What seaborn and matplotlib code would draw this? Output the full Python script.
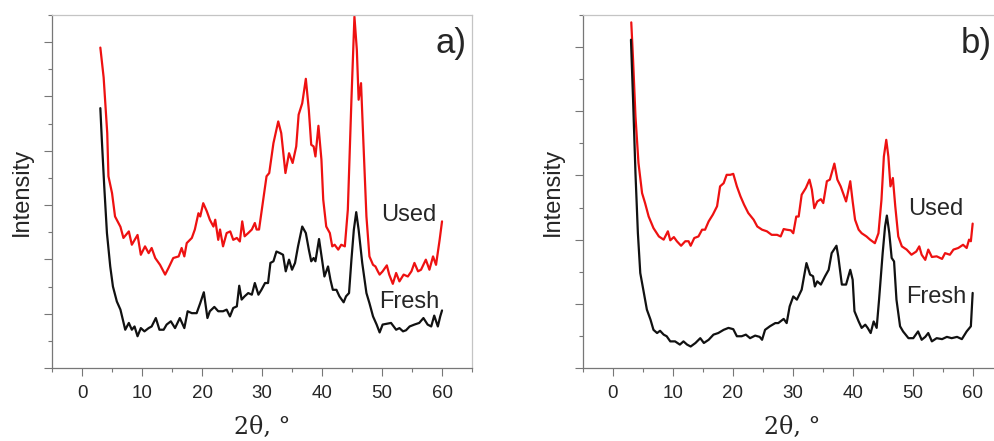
import numpy as np
import pandas as pd
import seaborn as sns
import matplotlib
matplotlib.use('Agg')
import matplotlib.pyplot as plt
from matplotlib.ticker import MultipleLocator

# XRD patterns (2theta in degrees, intensity in arbitrary units)
# panel a) - used catalyst
theta_a_used = [3.05, 3.6, 4.2, 4.4, 5.0, 5.5, 6.4, 6.9, 7.8, 8.3, 9.25, 9.8, 10.5, 11.1, 11.6,
                12.2, 13.0, 13.85, 14.4, 15.2, 16.1, 16.6, 17.05, 17.45, 18.3, 18.8, 19.4, 19.7,
                20.2, 20.8, 21.3, 21.9, 22.2, 22.7, 23.0, 23.5, 24.1, 24.7, 25.2, 25.8, 26.3,
                26.7, 27.1, 27.7, 28.3, 28.8, 29.1, 29.5, 30.2, 30.75, 31.2, 31.9, 32.7, 33.2,
                33.9, 34.5, 35.1, 35.7, 36.1, 36.7, 37.3, 37.8, 38.2, 38.6, 38.9, 39.4, 39.9,
                40.2, 40.7, 41.3, 41.7, 42.1, 42.7, 43.2, 43.8, 44.3, 44.9, 45.4, 45.8, 46.1,
                46.5, 46.9, 47.4, 47.9, 48.5, 48.9, 49.3, 49.6, 50.1, 50.8, 51.2, 51.8, 52.35,
                52.9, 53.6, 54.3, 54.9, 55.4, 56.0, 56.5, 57.3, 57.9, 58.5, 59.0, 59.6, 60.0]
int_a_used = [11.8, 10.7, 8.65, 7.06, 6.44, 5.58, 5.2, 4.79, 5.03, 4.54, 4.9, 4.17, 4.48, 4.23, 4.42,
              4.05, 3.8, 3.44, 3.68, 4.05, 4.11, 4.42, 4.11, 4.6, 4.79, 5.1, 5.7, 5.58,
              6.07, 5.77, 5.46, 5.21, 5.46, 4.72, 5.1, 4.48, 4.97, 5.03, 4.72, 4.79, 4.66,
              5.4, 4.85, 4.97, 5.1, 5.34, 5.1, 5.1, 6.2, 7.06, 7.18, 8.28, 9.08, 8.65,
              7.18, 7.91, 7.55, 8.16, 9.33, 9.75, 10.65, 9.5, 8.22, 8.16, 7.79, 8.92, 7.67,
              6.2, 5.21, 4.97, 4.48, 4.54, 4.36, 4.54, 4.48, 5.83, 9.88, 12.94, 11.72, 9.88,
              10.49, 8.28, 5.58, 4.11, 3.8, 3.74, 3.56, 3.44, 3.56, 3.78, 3.44, 3.1, 3.5,
              3.19, 3.44, 3.37, 3.56, 3.87, 3.56, 3.62, 3.99, 3.62, 4.11, 3.8, 4.72, 5.4]

# panel a) - fresh catalyst
theta_a_fresh = [3.05, 3.3, 3.7, 4.15, 4.7, 5.15, 5.8, 6.4, 6.8, 7.2, 7.8, 8.3, 8.75, 9.25, 9.8,
                 10.4, 11.1, 11.6, 12.3, 12.9, 13.6, 14.1, 14.8, 15.5, 16.3, 17.05, 17.6, 18.3,
                 19.1, 19.7, 20.3, 20.9, 21.3, 22.05, 22.7, 23.5, 24.1, 24.65, 25.2, 25.8, 26.2,
                 26.6, 27.1, 27.7, 28.3, 28.8, 29.4, 29.9, 30.5, 31.0, 31.4, 31.9, 32.4, 33.0,
                 33.5, 33.95, 34.5, 35.0, 35.5, 36.0, 36.7, 37.3, 37.8, 38.2, 38.6, 38.9, 39.5,
                 40.0, 40.4, 41.0, 41.4, 41.8, 42.4, 42.9, 43.6, 44.0, 44.5, 44.9, 45.3, 45.7,
                 46.1, 46.7, 47.4, 47.9, 48.5, 49.1, 49.6, 50.1, 50.8, 51.5, 52.35, 52.9, 53.5,
                 54.0, 54.6, 55.4, 56.2, 56.9, 57.6, 58.2, 58.7, 59.3, 59.7, 60.0]
int_a_fresh = [9.57, 8.4, 6.69, 4.97, 3.74, 3.0, 2.45, 2.15, 1.78, 1.41, 1.66, 1.41, 1.53, 1.17, 1.47,
               1.35, 1.47, 1.53, 1.84, 1.41, 1.41, 1.6, 1.72, 1.47, 1.84, 1.47, 2.09, 2.02,
               2.02, 2.39, 2.79, 1.84, 2.09, 2.25, 2.09, 2.09, 2.15, 1.9, 2.21, 2.27, 3.03,
               2.52, 2.64, 2.76, 2.7, 3.13, 2.7, 2.88, 3.13, 3.13, 3.87, 3.93, 4.29, 4.23,
               4.17, 3.56, 3.99, 3.62, 3.87, 4.48, 5.21, 4.97, 4.36, 3.93, 4.05, 3.93, 4.75,
               3.99, 3.37, 3.74, 3.25, 2.88, 2.88, 2.64, 2.42, 2.64, 2.76, 3.99, 5.09, 5.74,
               5.09, 3.87, 2.76, 2.39, 1.9, 1.6, 1.31, 1.6, 1.63, 1.66, 1.41, 1.47, 1.35,
               1.39, 1.53, 1.6, 1.66, 1.84, 1.6, 1.53, 1.93, 1.53, 1.9, 2.12]

# panel b) - used catalyst
theta_b_used = [3.1, 3.4, 3.8, 4.3, 4.9, 5.4, 6.0, 6.8, 7.7, 8.5, 9.2, 9.6, 10.2, 10.7, 11.4,
                12.1, 12.65, 13.0, 13.6, 14.3, 14.9, 15.4, 16.0, 16.7, 17.4, 17.9, 18.5, 19.0,
                19.6, 20.1, 20.7, 21.3, 21.9, 22.6, 23.5, 24.1, 24.9, 25.7, 26.5, 27.4, 28.0,
                28.5, 29.0, 29.7, 30.1, 30.6, 31.0, 31.5, 32.2, 32.8, 33.2, 33.6, 34.1, 34.7,
                35.1, 35.7, 36.2, 36.95, 37.45, 38.0, 38.5, 38.9, 39.6, 40.0, 40.4, 41.0, 41.5,
                42.3, 42.9, 43.7, 44.3, 44.8, 45.2, 45.6, 45.95, 46.3, 46.7, 47.1, 47.6, 48.2,
                49.0, 49.8, 50.6, 51.1, 51.5, 52.1, 52.6, 53.2, 54.0, 54.9, 55.4, 56.2, 56.8,
                57.6, 58.4, 59.0, 59.4, 59.7, 60.0]
int_b_used = [10.77, 9.6, 7.84, 6.39, 5.45, 5.14, 4.72, 4.36, 4.1, 4.0, 4.26, 3.98, 4.08, 3.95, 3.81,
              3.95, 3.95, 3.81, 4.05, 4.1, 4.31, 4.31, 4.57, 4.78, 5.04, 5.66, 5.76, 6.02,
              6.02, 6.05, 5.66, 5.35, 5.09, 4.83, 4.62, 4.41, 4.31, 4.26, 4.15, 4.15, 4.1,
              4.33, 4.31, 4.29, 4.2, 4.72, 4.72, 5.4, 5.61, 5.87, 5.56, 4.98, 5.19, 5.26,
              5.14, 5.82, 5.87, 6.37, 5.87, 5.66, 5.4, 5.19, 5.82, 5.19, 4.62, 4.31, 4.2,
              4.1, 4.0, 3.89, 4.2, 5.24, 6.59, 7.11, 6.59, 5.66, 5.92, 5.04, 4.1, 3.79,
              3.69, 3.53, 3.63, 3.79, 3.53, 3.37, 3.69, 3.46, 3.48, 3.4, 3.58, 3.53, 3.69,
              3.74, 3.84, 3.74, 4.0, 3.95, 4.5]

# panel b) - fresh catalyst
theta_b_fresh = [3.05, 3.4, 3.8, 4.2, 4.6, 5.2, 5.7, 6.3, 6.8, 7.4, 7.9, 8.5, 9.0, 9.6, 10.4,
                 11.2, 11.8, 12.4, 13.0, 13.8, 14.6, 15.2, 16.0, 16.8, 17.6, 18.5, 19.3, 20.1,
                 20.7, 21.5, 22.2, 22.9, 23.75, 24.5, 24.9, 25.4, 26.2, 27.1, 27.6, 28.5, 29.0,
                 29.5, 30.1, 30.7, 31.5, 31.9, 32.3, 32.9, 33.4, 33.7, 34.1, 34.7, 35.4, 36.0,
                 36.5, 37.3, 37.6, 38.2, 38.9, 39.6, 40.0, 40.3, 41.0, 41.5, 42.1, 42.5, 43.0,
                 43.5, 44.0, 44.4, 45.0, 45.4, 45.7, 46.1, 46.5, 46.9, 47.3, 47.9, 48.4, 49.3,
                 50.1, 50.9, 51.5, 52.1, 52.6, 53.2, 54.0, 54.9, 55.7, 56.5, 57.4, 58.2, 59.0,
                 59.7, 59.85, 60.0]
int_b_fresh = [10.23, 8.36, 6.07, 4.21, 2.96, 2.34, 1.82, 1.51, 1.19, 1.09, 1.16, 1.04, 0.99, 0.83, 0.83,
               0.73, 0.83, 0.73, 0.67, 0.78, 0.93, 0.78, 0.88, 1.04, 1.09, 1.19, 1.25, 1.21,
               0.99, 0.99, 1.04, 0.93, 1.01, 0.97, 0.88, 1.19, 1.3, 1.4, 1.4, 1.53, 1.4,
               1.92, 2.23, 2.13, 2.44, 2.86, 3.27, 2.91, 2.86, 2.54, 2.7, 2.6, 2.86, 3.06,
               3.58, 3.81, 3.48, 2.6, 2.6, 3.06, 2.75, 1.77, 1.45, 1.25, 1.35, 1.25, 1.09,
               1.45, 1.25, 2.13, 3.58, 4.41, 4.75, 4.21, 3.43, 3.32, 2.13, 1.3, 1.14, 0.93,
               0.93, 1.14, 0.88, 0.97, 1.09, 0.83, 0.93, 0.9, 0.97, 0.93, 0.97, 0.9, 1.14,
               1.3, 1.82, 2.34]

panel_tags = ['a)', 'b)']
series_names = ['Used', 'Fresh']
y_tops = [13, 11]

sns.set_style('white')
plt.rcParams['font.family'] = ['Liberation Sans', 'DejaVu Sans']

fig = plt.figure(figsize=(9.95, 4.41), dpi=100)
ax_a = fig.add_axes([0.0523, 0.1655, 0.4221, 0.8005])
ax_b = fig.add_axes([0.5856, 0.1655, 0.4221, 0.8005])

panels = [
    (ax_a, theta_a_used, int_a_used, theta_a_fresh, int_a_fresh),
    (ax_b, theta_b_used, int_b_used, theta_b_fresh, int_b_fresh),
]
# label spots (axes fraction) for Used / Fresh, and the panel tag
lab_pos = [[(0.783, 0.433), (0.779, 0.187)],
           [(0.775, 0.450), (0.771, 0.200)]]
tag_x = [0.912, 0.900]

for i, (ax, tu, iu, tf, iff) in enumerate(panels):
    df = pd.concat([
        pd.DataFrame({'theta': tu, 'I': iu, 'sample': 'Used'}),
        pd.DataFrame({'theta': tf, 'I': iff, 'sample': 'Fresh'}),
    ], ignore_index=True)
    sns.lineplot(data=df, x='theta', y='I', hue='sample', palette={'Used': '#ee1111', 'Fresh': '#111111'},
                 estimator=None, sort=False, linewidth=1.6, legend=False, ax=ax)
    ax.set_xlim(-5, 65)
    ax.set_ylim(0, y_tops[i])
    ax.xaxis.set_major_locator(MultipleLocator(10))
    ax.xaxis.set_minor_locator(MultipleLocator(5))
    ax.yaxis.set_major_locator(MultipleLocator(2))
    ax.yaxis.set_minor_locator(MultipleLocator(1))
    ax.set_yticklabels([])
    ax.tick_params(axis='both', which='major', direction='out', length=5.5, width=0.8,
                   color='#777777', labelsize=13.5, pad=7, left=True, bottom=True)
    ax.tick_params(axis='both', which='minor', direction='out', length=2.8, width=0.8,
                   color='#777777', left=True, bottom=True)
    for side in ['left', 'bottom']:
        ax.spines[side].set_color('#777777')
        ax.spines[side].set_linewidth(0.9)
    for side in ['top', 'right']:
        ax.spines[side].set_color('#c4c4c4')
        ax.spines[side].set_linewidth(0.9)
    ax.set_xlabel('2θ, °', fontsize=17, labelpad=10, family=['DejaVu Serif'])
    ax.set_ylabel('Intensity', fontsize=17, labelpad=1)
    ax.text(tag_x[i], 0.92, panel_tags[i], transform=ax.transAxes, fontsize=25,
            ha='left', va='center')
    for name, (px, py) in zip(series_names, lab_pos[i]):
        ax.text(px, py, name, transform=ax.transAxes, fontsize=17, ha='left', va='center')

fig.savefig('out.png', dpi=100)
